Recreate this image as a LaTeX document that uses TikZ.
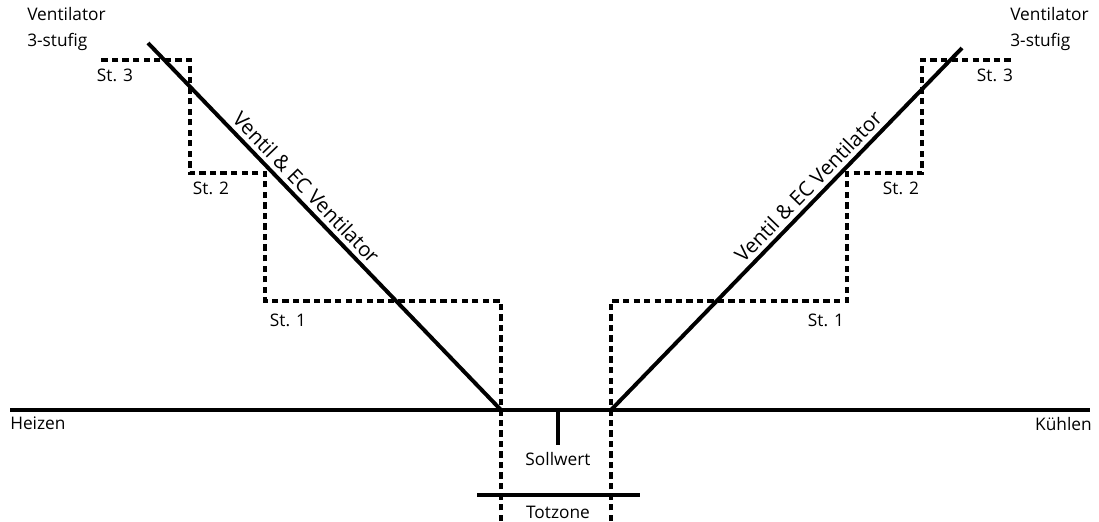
\documentclass[tikz,border=0pt]{standalone}
\usepackage{fontspec}
\setmainfont{Open Sans}
\usepackage{tikz}

\tikzset{
  solid line/.style={black, line width=2.8pt},
  stage line/.style={black, line width=2.8pt, dash pattern=on 4.5pt off 3pt},
  lbl/.style={inner sep=0pt, font=\fontsize{12.3}{18.5}\selectfont},
  slope lbl/.style={inner sep=0pt, font=\fontsize{14.5}{16}\selectfont},
}

\begin{document}
\begin{tikzpicture}[x=0.025cm, y=-0.025cm]
                \useasboundingbox (0,0) rectangle (1099,521);

                %% Achse
                \coordinate (axL) at (10,410);
                \coordinate (axR) at (1090,410);
                \draw[solid line] (axL) -- (axR);
                \node[lbl, anchor=north west] (heizen) at (10,417) {Heizen};
                \node[lbl, anchor=north east] (kuehlen) at (1092,417) {Kühlen};

                %% Sollwert
                \coordinate (soll) at (558,410);
                \coordinate (sollEnd) at (558,445);
                \draw[solid line] (soll) -- (sollEnd);
                \node[lbl] (sollwert) at (558,459) {Sollwert};

                %% Totzone
                \coordinate (totL) at (477,495);
                \coordinate (totR) at (640,495);
                \draw[solid line] (totL) -- (totR);
                \node[lbl] (totzone) at (558,512) {Totzone};

                %% Heizen: Ventil & EC
                \coordinate (hTop) at (148,43);
                \coordinate (hNull) at (501,410);
                \draw[solid line] (hTop) -- (hNull)
                    node[slope lbl, pos=0.42, sloped, above=3pt] (hText) {Ventil \& EC Ventilator};

                %% Kuehlen: Ventil & EC
                \coordinate (kNull) at (611,410);
                \coordinate (kTop) at (962,48);
                \draw[solid line] (kNull) -- (kTop)
                    node[slope lbl, pos=0.59, sloped, above=3pt] (kText) {Ventil \& EC Ventilator};

                %% Stufen Heizen
                \draw[stage line] (501,521) -- (501,301) -- (265,301) -- (265,173)
                    -- (190,173) -- (190,60) -- (100,60);
                \node[lbl] (hSt1) at (288,320) {St. 1};
                \node[lbl] (hSt2) at (211,188) {St. 2};
                \node[lbl] (hSt3) at (115,75) {St. 3};

                %% Stufen Kuehlen
                \draw[stage line] (611,521) -- (611,301) -- (847,301) -- (847,173)
                    -- (922,173) -- (922,60) -- (1013,60);
                \node[lbl] (kSt1) at (826,320) {St. 1};
                \node[lbl] (kSt2) at (901,188) {St. 2};
                \node[lbl] (kSt3) at (995,75) {St. 3};

                %% Ventilator 3-stufig
                \node[lbl, anchor=north west, align=left] (hVent) at (27,7) {Ventilator\\3-stufig};
                \node[lbl, anchor=north west, align=left] (kVent) at (1010,7) {Ventilator\\3-stufig};

\end{tikzpicture}
\end{document}
